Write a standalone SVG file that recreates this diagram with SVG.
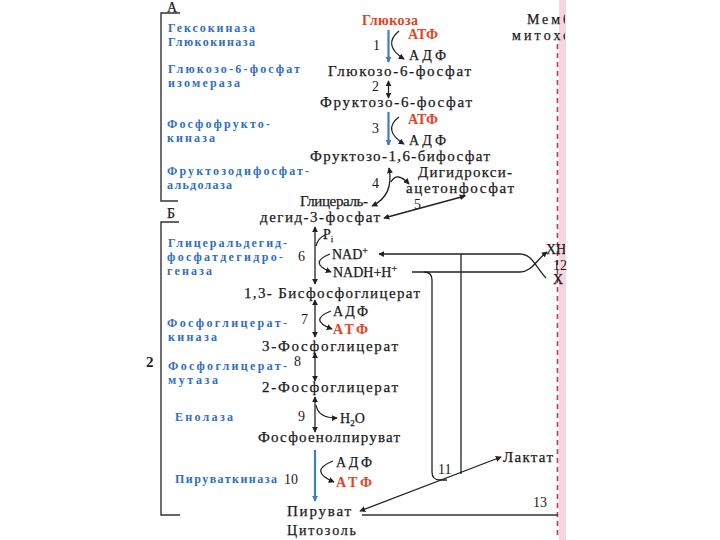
<svg xmlns="http://www.w3.org/2000/svg" width="720" height="540" viewBox="0 0 720 540">
<defs>
<style>
.cmp{font-family:"Liberation Serif","DejaVu Serif",serif;font-size:15px;fill:#1a1a1a;stroke:#1a1a1a;stroke-width:0.25}
.sm{font-family:"Liberation Serif","DejaVu Serif",serif;font-size:14px;fill:#1a1a1a;stroke:#1a1a1a;stroke-width:0.25}
.num{font-family:"Liberation Serif","DejaVu Serif",serif;font-size:14px;fill:#1a1a1a}
.enz{font-family:"Liberation Serif","DejaVu Serif",serif;font-size:12px;font-weight:bold;fill:#2f6fc2}
.red{font-family:"Liberation Serif","DejaVu Serif",serif;font-size:14px;font-weight:bold;fill:#e4421e}
.ln{stroke:#222;stroke-width:1.3;fill:none}
.bl{stroke:#3d7bcc;stroke-width:2.2;fill:none}
.br{stroke:#333;stroke-width:1.4;fill:none}
</style>
<marker id="ar" viewBox="0 0 8 8" refX="7" refY="4" markerWidth="6" markerHeight="6" orient="auto-start-reverse" markerUnits="userSpaceOnUse">
<path d="M0,0 L8,4 L0,8 z" fill="#222"/>
</marker>
<marker id="arb" viewBox="0 0 8 8" refX="7" refY="4" markerWidth="6" markerHeight="6" orient="auto-start-reverse" markerUnits="userSpaceOnUse">
<path d="M0,0 L8,4 L0,8 z" fill="#3d7bcc"/>
</marker>
<clipPath id="cl"><rect x="0" y="0" width="565" height="540"/></clipPath>
</defs>
<rect width="720" height="540" fill="#fff"/>

<!-- membrane -->
<g id="membrane">
<rect x="559" y="0" width="7" height="540" fill="#f6d6de"/>
<line x1="557.5" y1="44" x2="557.5" y2="538" stroke="#c8304a" stroke-width="1.6" stroke-dasharray="5,4"/>
<g clip-path="url(#cl)">
<text class="sm" x="527" y="24" textLength="43" lengthAdjust="spacing">Мемб</text>
<text class="sm" x="512" y="40" textLength="58" lengthAdjust="spacing">митохо</text>
<text class="sm" x="546" y="254" font-size="13">XH</text>
</g>
<text class="num" x="553" y="270" font-size="11">12</text>
<text class="sm" x="553" y="284" font-size="13">X</text>
<text class="num" x="533" y="507" font-size="13">13</text>
</g>

<!-- brackets -->
<g id="brackets">
<path class="br" d="M180,13 H161 V201 H178"/>
<text class="sm" x="167" y="12">А</text>
<text class="sm" x="167" y="218">Б</text>
<path class="br" d="M179,222 H161 V515 H180"/>
<line class="br" x1="362" y1="515" x2="558" y2="515"/>
<text x="146" y="367" font-family="Liberation Serif,serif" font-size="15" font-weight="bold" fill="#222">2</text>
</g>

<!-- enzymes -->
<g id="enzymes">
<text class="enz" x="168" y="32" textLength="87" lengthAdjust="spacing">Гексокиназа</text>
<text class="enz" x="168" y="46" textLength="87" lengthAdjust="spacing">Глюкокиназа</text>
<text class="enz" x="168" y="73" textLength="132" lengthAdjust="spacing">Глюкозо-6-фосфат</text>
<text class="enz" x="168" y="87" textLength="72" lengthAdjust="spacing">изомераза</text>
<text class="enz" x="167" y="128" textLength="103" lengthAdjust="spacing">Фосфофрукто-</text>
<text class="enz" x="167" y="142" textLength="48" lengthAdjust="spacing">киназа</text>
<text class="enz" x="167" y="175" textLength="142" lengthAdjust="spacing">Фруктозодифосфат-</text>
<text class="enz" x="167" y="189" textLength="65" lengthAdjust="spacing">альдолаза</text>
<text class="enz" x="168" y="247" textLength="119" lengthAdjust="spacing">Глицеральдегид-</text>
<text class="enz" x="167" y="261" textLength="116" lengthAdjust="spacing">фосфатдегидро-</text>
<text class="enz" x="167" y="275" textLength="45" lengthAdjust="spacing">геназа</text>
<text class="enz" x="167" y="327" textLength="120" lengthAdjust="spacing">Фосфоглицерат-</text>
<text class="enz" x="168" y="341" textLength="49" lengthAdjust="spacing">киназа</text>
<text class="enz" x="168" y="370" textLength="119" lengthAdjust="spacing">Фосфоглицерат-</text>
<text class="enz" x="168" y="384" textLength="50" lengthAdjust="spacing">мутаза</text>
<text class="enz" x="175" y="421" textLength="58" lengthAdjust="spacing">Енолаза</text>
<text class="enz" x="175" y="483" textLength="102" lengthAdjust="spacing">Пируваткиназа</text>
</g>

<!-- compounds -->
<g id="glucose"><text class="red" x="362" y="25" textLength="56" lengthAdjust="spacing" fill="#d43a2a">Глюкоза</text></g>
<g id="g6p"><text class="cmp" x="328" y="76" textLength="143" lengthAdjust="spacing">Глюкозо-6-фосфат</text></g>
<g id="f6p"><text class="cmp" x="320" y="107" textLength="152" lengthAdjust="spacing">Фруктозо-6-фосфат</text></g>
<g id="f16bp"><text class="cmp" x="310" y="161" textLength="180" lengthAdjust="spacing">Фруктозо-1,6-бифосфат</text></g>
<g id="dhap">
<text class="cmp" x="418" y="177" textLength="94" lengthAdjust="spacing">Дигидрокси-</text>
<text class="cmp" x="406" y="193" textLength="108" lengthAdjust="spacing">ацетонфосфат</text>
</g>
<g id="gap">
<text class="cmp" x="300" y="206" textLength="68" lengthAdjust="spacing">Глицераль-</text>
<text class="cmp" x="260" y="222" textLength="120" lengthAdjust="spacing">дегид-3-фосфат</text>
</g>
<g id="bpg"><text class="cmp" x="244" y="298" textLength="176" lengthAdjust="spacing">1,3- Бисфосфоглицерат</text></g>
<g id="pg3"><text class="cmp" x="262" y="351" textLength="136" lengthAdjust="spacing">3-Фосфоглицерат</text></g>
<g id="pg2"><text class="cmp" x="262" y="392" textLength="136" lengthAdjust="spacing">2-Фосфоглицерат</text></g>
<g id="pep"><text class="cmp" x="258" y="442" textLength="142" lengthAdjust="spacing">Фосфоенолпируват</text></g>
<g id="pyruvate"><text class="cmp" x="287" y="516" textLength="64" lengthAdjust="spacing">Пируват</text></g>
<g id="lactate"><text class="cmp" x="503" y="462" textLength="50" lengthAdjust="spacing">Лактат</text></g>
<g id="cytosol"><text class="sm" x="287" y="535" textLength="69" lengthAdjust="spacing">Цитозоль</text></g>

<!-- cofactors -->
<g id="cofactors">
<text class="red" x="408" y="39" textLength="30" lengthAdjust="spacing">АТФ</text>
<text class="sm" x="409" y="60" textLength="37" lengthAdjust="spacing">АДФ</text>
<text class="red" x="408" y="124" textLength="30" lengthAdjust="spacing">АТФ</text>
<text class="sm" x="409" y="145" textLength="37" lengthAdjust="spacing">АДФ</text>
<text class="sm" x="323" y="239">P<tspan font-size="9" dy="3">i</tspan></text>
<text class="sm" x="332" y="259">NAD<tspan font-size="10" dy="-5">+</tspan></text>
<text class="sm" x="333" y="277">NADH+H<tspan font-size="10" dy="-5">+</tspan></text>
<text class="sm" x="333" y="316" textLength="35" lengthAdjust="spacing">АДФ</text>
<text class="red" x="333" y="334" textLength="35" lengthAdjust="spacing">АТФ</text>
<text class="sm" x="340" y="423">H<tspan font-size="9" dy="3">2</tspan><tspan dy="-3">O</tspan></text>
<text class="sm" x="336" y="467" textLength="36" lengthAdjust="spacing">АДФ</text>
<text class="red" x="336" y="487" textLength="36" lengthAdjust="spacing">АТФ</text>
</g>

<!-- step numbers -->
<g id="numbers">
<text class="num" x="373" y="50">1</text>
<text class="num" x="372" y="91">2</text>
<text class="num" x="372" y="133">3</text>
<text class="num" x="372" y="188">4</text>
<text class="num" x="414" y="209">5</text>
<text class="num" x="298" y="261">6</text>
<text class="num" x="301" y="324">7</text>
<text class="num" x="294" y="366">8</text>
<text class="num" x="298" y="421">9</text>
<text class="num" x="284" y="484">10</text>
<text class="num" x="438" y="474">11</text>
</g>

<!-- connectors -->
<g id="connectors">
<line class="bl" x1="388.5" y1="30" x2="388.5" y2="62" marker-end="url(#arb)"/>
<path class="ln" d="M399,31 Q382,45 404,59" marker-end="url(#ar)"/>
<line class="ln" x1="388.5" y1="81" x2="388.5" y2="98" marker-start="url(#ar)" marker-end="url(#ar)"/>
<line class="bl" x1="388.5" y1="112" x2="388.5" y2="145" marker-end="url(#arb)"/>
<path class="ln" d="M399,117 Q382,130 404,144" marker-end="url(#ar)"/>
<path class="ln" d="M389,168 C392,184 389,198 372,206" marker-start="url(#ar)" marker-end="url(#ar)"/>
<path class="ln" d="M391,182 Q397,171 409,184" marker-end="url(#ar)"/>
<line class="ln" x1="384" y1="218" x2="465" y2="196" marker-start="url(#ar)" marker-end="url(#ar)"/>

<line class="ln" x1="315" y1="227" x2="315" y2="284" marker-start="url(#ar)" marker-end="url(#ar)"/>
<path class="ln" d="M316,246 Q318,238 325,235"/>
<path class="ln" d="M330,254 Q308,263 331,272" marker-end="url(#ar)"/>
<path class="ln" d="M546,278 C535,266 532,254 520,254 H379" marker-end="url(#ar)"/>
<path class="ln" d="M412,272 H520 C532,272 536,260 547,252" marker-end="url(#ar)"/>
<path class="ln" d="M424,272 Q432,272 432,280 V472 Q432,480 440,480 H447"/>
<line class="ln" x1="461" y1="254" x2="461" y2="474"/>

<line class="ln" x1="315" y1="300" x2="315" y2="337" marker-start="url(#ar)" marker-end="url(#ar)"/>
<path class="ln" d="M331,311 Q308,320 332,329" marker-end="url(#ar)"/>
<line class="ln" x1="315" y1="353" x2="315" y2="381" marker-start="url(#ar)" marker-end="url(#ar)"/>
<line class="ln" x1="315" y1="397" x2="315" y2="432" marker-start="url(#ar)" marker-end="url(#ar)"/>
<path class="ln" d="M316,405 Q318,418 337,418" marker-end="url(#ar)"/>
<line class="bl" x1="315" y1="450" x2="315" y2="501" marker-end="url(#arb)"/>
<path class="ln" d="M333,461 Q308,471 334,482" marker-end="url(#ar)"/>
<line class="ln" x1="360" y1="511" x2="501" y2="457" marker-start="url(#ar)" marker-end="url(#ar)"/>
</g>
</svg>
